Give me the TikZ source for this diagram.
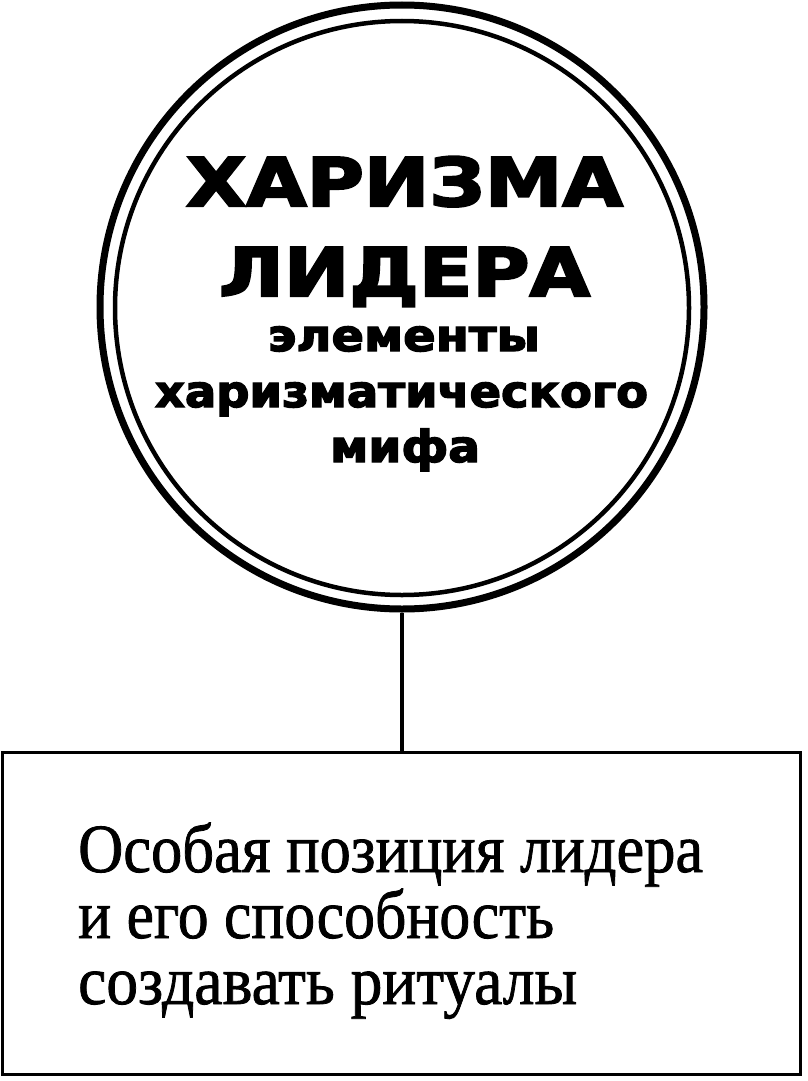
\documentclass[tikz,border=0pt]{standalone}
\usepackage{fontspec}
\usepackage{graphicx}
\setmainfont{Liberation Serif}[RawFeature={embolden=1.2}]
\newfontfamily\headfont{DejaVu Sans Bold}[RawFeature={embolden=3}]
\newcommand{\fitw}[2]{\resizebox{#1}{\height}{#2}}
\tikzset{
  ring/.style={circle, draw, inner sep=0pt},
  headcaps/.style={anchor=base, inner sep=0pt, font=\headfont\fontsize{67}{67}\selectfont},
  headlow/.style={anchor=base, inner sep=0pt, font=\headfont\fontsize{44}{44}\selectfont},
  bodyline/.style={anchor=base west, inner sep=0pt, font=\fontsize{69}{69}\selectfont},
  frame/.style={draw, line width=3.5pt, inner sep=0pt}
}
\begin{document}
\begin{tikzpicture}[x=1pt,y=-1pt]
\useasboundingbox (0,0) rectangle (807,1081);
\node[ring, line width=7pt, minimum size=604pt] (outer) at (402,307) {};
\node[ring, line width=4.5pt, minimum size=574pt] (inner) at (402,308) {};
\node[frame, minimum width=798pt, minimum height=322pt] (box) at (401.5,913.5) {};
\draw[line width=4pt] (outer.south) -- (outer.south |- box.north);
\node[headcaps] (t1) at (404.5,206) {\fitw{437pt}{ХАРИЗМА}};
\node[headcaps] (t2) at (404.5,296) {\fitw{371pt}{ЛИДЕРА}};
\node[headlow] (t3) at (404,351) {\fitw{272pt}{элементы}};
\node[headlow] (t4) at (401.5,407) {\fitw{493pt}{харизматического}};
\node[headlow] (t5) at (405,462) {\fitw{150pt}{мифа}};
\node[bodyline] (b1) at (78,872) {\fitw{625pt}{Особая позиция лидера}};
\node[bodyline] (b2) at (78,938) {\fitw{476pt}{и его способность}};
\node[bodyline] (b3) at (78,1004) {\fitw{499pt}{создавать ритуалы}};
\end{tikzpicture}
\end{document}
